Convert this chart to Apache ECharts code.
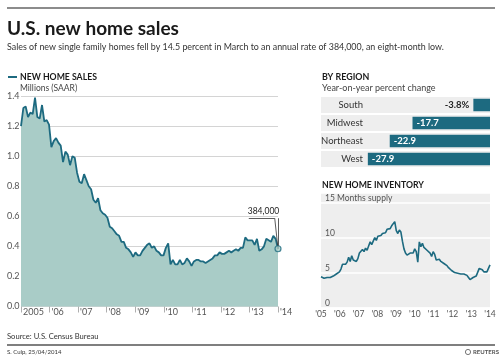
<!DOCTYPE html>
<html><head><meta charset="utf-8">
<script src="https://cdn.jsdelivr.net/npm/echarts@6/dist/echarts.min.js"></script>
<style>html,body{margin:0;padding:0;background:#fff}#c{width:500px;height:361px}</style>
</head><body><div id="c"></div>
<script>
// New home sales, millions SAAR, monthly Jan 2005 - Mar 2014
const salesValues = [
  1.20,1.32,1.33,1.26,1.29,1.28,1.39,1.26,1.25,1.34,1.23,1.24,
  1.21,1.06,1.10,1.12,1.09,1.07,0.96,1.03,1.01,0.94,1.00,0.99,
  0.89,0.83,0.82,0.88,0.84,0.80,0.78,0.71,0.69,0.72,0.64,0.62,
  0.61,0.59,0.53,0.52,0.50,0.48,0.47,0.43,0.43,0.39,0.38,0.36,
  0.33,0.36,0.34,0.34,0.37,0.39,0.41,0.42,0.39,0.40,0.37,0.36,
  0.34,0.34,0.39,0.42,0.28,0.31,0.28,0.28,0.31,0.28,0.29,0.32,
  0.30,0.27,0.30,0.31,0.31,0.30,0.30,0.29,0.30,0.31,0.32,0.34,
  0.34,0.36,0.35,0.35,0.36,0.37,0.36,0.37,0.38,0.37,0.39,0.39,
  0.46,0.44,0.44,0.44,0.41,0.45,0.37,0.38,0.40,0.45,0.44,0.43,
  0.47,0.45,0.384
];
const salesTickLabels = ['2005',"'06","'07","'08","'09","'10","'11","'12","'13","'14"];
const salesLastLabel = '384,000';

// Region, year-on-year percent change
const regionNames = ['South','Midwest','Northeast','West'];
const regionValues = [-3.8,-17.7,-22.9,-27.9];
const regionLabels = ['-3.8%','-17.7','-22.9','-27.9'];

// New home inventory, months supply, monthly Jan 2005 - Mar 2014
const inventoryValues = [
  4.4,4.3,4.2,4.2,4.3,4.2,4.3,4.4,4.5,4.5,4.8,4.9,
  5.1,5.5,6.2,6.0,6.2,6.5,7.2,6.6,7.4,6.8,7.0,6.6,
  7.0,7.8,7.6,8.3,8.0,8.5,8.2,8.8,9.4,9.0,9.2,10.0,
  9.6,10.2,10.4,10.3,10.6,10.8,10.7,11.2,11.0,11.3,11.7,11.5,
  12.3,11.0,10.6,11.1,10.8,9.5,8.4,7.8,7.5,7.6,7.8,7.6,
  7.8,8.4,8.0,6.5,9.4,8.7,9.2,8.6,8.7,8.2,8.4,7.8,
  7.3,8.0,7.6,6.8,7.0,6.9,6.6,6.5,6.3,6.2,6.0,5.7,
  5.6,5.3,5.1,5.0,4.9,4.9,4.8,4.8,4.7,4.8,4.7,4.6,
  4.3,4.0,4.2,4.3,4.4,4.5,4.5,5.6,5.5,5.4,5.1,5.2,
  5.1,5.3,6.1
];
const inventoryTickLabels = ["'05","'06","'07","'08","'09","'10","'11","'12","'13","'14"];

const TEAL = '#1d6a80';
const AREA = '#a9ccc7';
const PANEL = '#eeeeee';
const FONT = 'Lato, "Open Sans", sans-serif';
const n = salesValues.length - 1;
const step = n / 9;

const chart = echarts.init(document.getElementById('c'), null, {renderer:'canvas'});

const salesData = salesValues.map((v,i)=>[i,v]);
const invData = inventoryValues.map((v,i)=>[i,v]);
const lastSales = salesValues[n];

function txt(x,y,text,font,fill,extra){
  return Object.assign({type:'text', x:x, y:y, silent:true,
    style:Object.assign({text:text, font:font, fill:fill, verticalAlign:'middle'}, extra||{})});
}

const option = {
  animation:false,
  backgroundColor:'#fff',
  textStyle:{fontFamily:FONT},
  grid:[
    {left:21, right:222, top:96, bottom:54.5},
    {left:321, right:10, top:96, height:72},
    {left:321, right:10, top:193, bottom:53.5, show:true, backgroundColor:PANEL, borderWidth:0}
  ],
  xAxis:[
    {gridIndex:0, type:'value', min:0, max:n, interval:step,
     axisLine:{show:false}, splitLine:{show:false},
     axisTick:{show:true, length:6, inside:false, lineStyle:{color:'#999', width:0.8}},
     axisLabel:{color:'#555', fontSize:9, fontFamily:FONT, margin:1, align:'left', padding:[0,0,0,2],
       formatter:v=>salesTickLabels[Math.round(v/step)]}},
    {gridIndex:1, type:'value', min:-38.6, max:0, show:false},
    {gridIndex:2, type:'value', min:0, max:n, interval:step,
     axisLine:{show:false}, splitLine:{show:false}, axisTick:{show:false},
     axisLabel:{color:'#555', fontSize:8.5, fontFamily:FONT, margin:2,
       formatter:v=>inventoryTickLabels[Math.round(v/step)]}}
  ],
  yAxis:[
    {gridIndex:0, type:'value', min:0, max:1.4, interval:0.2,
     axisLine:{show:false}, axisTick:{show:false},
     splitLine:{show:true, lineStyle:{color:'#d4d4d4', width:1}},
     axisLabel:{color:'#555', fontSize:9, fontFamily:FONT, align:'left', margin:14,
       formatter:v=>v.toFixed(1)}},
    {gridIndex:1, type:'category', data:regionNames, inverse:true,
     axisLine:{show:false}, axisTick:{show:false},
     splitArea:{show:true, areaStyle:{color:[PANEL,PANEL]}},
     splitLine:{show:true, lineStyle:{color:'#fff', width:2}},
     axisLabel:{inside:true, align:'right', margin:42, color:'#333', fontSize:9.5, fontFamily:FONT}},
    {gridIndex:2, type:'value', min:0, max:16.4, interval:5,
     axisLine:{show:false}, axisTick:{show:false},
     splitLine:{show:true, lineStyle:{color:'#fff', width:1.5}},
     axisLabel:{inside:true, margin:4, verticalAlign:'bottom', color:'#555', fontSize:8.5, fontFamily:FONT,
       formatter:v=>{ if (v%5!==0) return ''; return v===15 ? '15 Months supply' : String(v); }}}
  ],
  series:[
    {type:'line', xAxisIndex:0, yAxisIndex:0, data:salesData, showSymbol:false,
     lineStyle:{color:TEAL, width:1.8}, areaStyle:{color:AREA, opacity:1}, itemStyle:{color:TEAL},
     z:3,
     markLine:{silent:true, symbol:'none', animation:false,
       lineStyle:{color:'#333', width:0.8, type:'solid'}, label:{show:false},
       data:[
         [{coord:[97.5,0.587]},{coord:[108.6,0.587]}],
         [{coord:[108.6,0.587]},{coord:[n,lastSales]}],
         [{coord:[109.9,0.587]},{coord:[n,lastSales]}]
       ]},
     markPoint:{silent:true, symbol:'rect', symbolSize:1, itemStyle:{color:'rgba(0,0,0,0)'},
       data:[{coord:[103.8,0.633], label:{show:true, position:'inside', formatter:salesLastLabel,
         color:'#222', fontSize:8.5, fontFamily:FONT}}]}
    },
    {type:'scatter', xAxisIndex:0, yAxisIndex:0, data:[[n,lastSales]], symbol:'circle', symbolSize:6,
     itemStyle:{color:AREA, borderColor:TEAL, borderWidth:1.2}, z:5},
    {type:'bar', xAxisIndex:1, yAxisIndex:1, barWidth:12.5,
     itemStyle:{color:TEAL},
     data:regionValues.map((v,i)=>({value:v, label:{show:true,
       position: i===0 ? 'left' : 'insideLeft',
       color: i===0 ? '#222' : '#fff', fontWeight:'bold', fontSize:9.5, fontFamily:FONT,
       distance:4, formatter:regionLabels[i]}}))},
    {type:'line', xAxisIndex:2, yAxisIndex:2, data:invData, showSymbol:false,
     lineStyle:{color:TEAL, width:1.6}, itemStyle:{color:TEAL}}
  ],
  graphic:[
    {type:'line', silent:true, shape:{x1:7,y1:8,x2:495,y2:8}, style:{stroke:'#666', lineWidth:1.6}},
    txt(7,29,'U.S. new home sales','bold 19px '+FONT,'#1a1a1a'),
    txt(7,47,'Sales of new single family homes fell by 14.5 percent in March to an annual rate of 384,000, an eight-month low.','8.9px '+FONT,'#333'),
    {type:'line', silent:true, shape:{x1:8,y1:77,x2:17,y2:77}, style:{stroke:TEAL, lineWidth:2}},
    txt(20,77,'NEW HOME SALES','bold 8.7px '+FONT,'#1a1a1a'),
    txt(20,88,'Millions (SAAR)','8.5px '+FONT,'#444'),
    txt(322,77,'BY REGION','bold 8.9px '+FONT,'#1a1a1a'),
    txt(322,88,'Year-on-year percent change','9px '+FONT,'#444'),
    txt(322,185,'NEW HOME INVENTORY','bold 8.7px '+FONT,'#1a1a1a'),
    txt(7,337,'Source: U.S. Census Bureau','7.6px '+FONT,'#333'),
    {type:'line', silent:true, shape:{x1:7,y1:345,x2:495,y2:345}, style:{stroke:'#555', lineWidth:1.6}},
    txt(7,352,'S. Culp, 25/04/2014','6px '+FONT,'#333'),
    {type:'circle', silent:true, shape:{cx:468,cy:352,r:2.6}, style:{fill:'#fff', stroke:'#777', lineWidth:1}},
    txt(473,352,'REUTERS','bold 6px '+FONT,'#555')
  ]
};
chart.setOption(option);
</script></body></html>
